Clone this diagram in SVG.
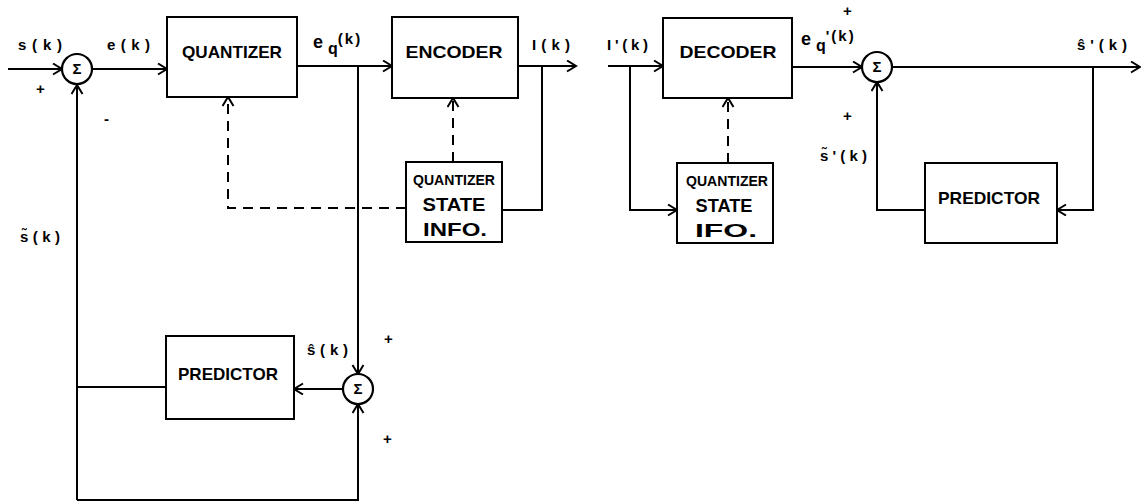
<svg xmlns="http://www.w3.org/2000/svg" width="1141" height="504" viewBox="0 0 1141 504">
<defs>
<marker id="arr" markerUnits="userSpaceOnUse" markerWidth="14" markerHeight="14" refX="10" refY="6" orient="auto">
<path d="M1,0.5 L10,6 L1,11.5" fill="none" stroke="#000" stroke-width="2"/>
</marker>
<style>
.box{fill:#fff;stroke:#000;stroke-width:2}
.ln{fill:none;stroke:#000;stroke-width:2}
.dash{fill:none;stroke:#000;stroke-width:2;stroke-dasharray:10,7}
.sum{fill:#fff;stroke:#000;stroke-width:2.2}
.t{font-family:"Liberation Sans",Arial,sans-serif;font-weight:bold;font-size:17px;fill:#000}
.lb{font-family:"Liberation Sans",Arial,sans-serif;font-weight:bold;font-size:15px;fill:#000}
.sg{font-family:"Liberation Sans",Arial,sans-serif;font-weight:bold;font-size:15px;fill:#000;text-anchor:middle}
.m{text-anchor:middle}
.s14{font-size:14px}
.s18{font-size:18px}
.big{font-size:18px}
</style>
</defs>
<rect width="1141" height="504" fill="#fff"/>
<g id="connectors">
<line class="ln" x1="8" y1="69" x2="62" y2="69" marker-end="url(#arr)"/>
<line class="ln" x1="92" y1="69" x2="167" y2="69" marker-end="url(#arr)"/>
<line class="ln" x1="297" y1="66" x2="392" y2="66" marker-end="url(#arr)"/>
<line class="ln" x1="518" y1="66" x2="576" y2="66" marker-end="url(#arr)"/>
<polyline class="ln" points="542,66 542,210 502,210"/>
<line class="ln" x1="358" y1="66" x2="358" y2="374" marker-end="url(#arr)"/>
<polyline class="dash" points="406,208 228,208 228,97" marker-end="url(#arr)"/>
<line class="dash" x1="453" y1="162" x2="453" y2="98" marker-end="url(#arr)"/>
<polyline class="ln" points="77,500 77,85" marker-end="url(#arr)"/>
<line class="ln" x1="166" y1="387" x2="77" y2="387"/>
<line class="ln" x1="343" y1="389" x2="294" y2="389" marker-end="url(#arr)"/>
<polyline class="ln" points="77,500 358,500 358,404" marker-end="url(#arr)"/>
<line class="ln" x1="608" y1="66" x2="663" y2="66" marker-end="url(#arr)"/>
<polyline class="ln" points="630,66 630,210 677,210" marker-end="url(#arr)"/>
<line class="dash" x1="728" y1="163" x2="728" y2="98" marker-end="url(#arr)"/>
<line class="ln" x1="792" y1="67" x2="862" y2="67" marker-end="url(#arr)"/>
<line class="ln" x1="892" y1="67" x2="1140" y2="67" marker-end="url(#arr)"/>
<polyline class="ln" points="1093,67 1093,210 1057,210" marker-end="url(#arr)"/>
<polyline class="ln" points="925,210 877,210 877,82" marker-end="url(#arr)"/>
</g>
<g id="sum1"><circle class="sum" cx="77" cy="69" r="15"/><text class="sg" x="77" y="74">Σ</text></g>
<g id="quantizer"><rect class="box" x="167" y="17" width="130" height="80"/><text class="t m" x="232" y="58" textLength="100" lengthAdjust="spacingAndGlyphs">QUANTIZER</text></g>
<g id="encoder"><rect class="box" x="392" y="17" width="126" height="81"/><text class="t m" x="454" y="58" textLength="97" lengthAdjust="spacingAndGlyphs">ENCODER</text></g>
<g id="qsi1"><rect class="box" x="406" y="162" width="96" height="80"/>
<text class="t m s14" x="454" y="185" textLength="82" lengthAdjust="spacingAndGlyphs">QUANTIZER</text>
<text class="t m s18" x="454" y="211" textLength="63" lengthAdjust="spacingAndGlyphs">STATE</text>
<text class="t m s18" x="455" y="236" textLength="64" lengthAdjust="spacingAndGlyphs">INFO.</text></g>
<g id="predictor1"><rect class="box" x="166" y="336" width="128" height="83"/><text class="t m" x="228" y="380" textLength="100" lengthAdjust="spacingAndGlyphs">PREDICTOR</text></g>
<g id="sum3"><circle class="sum" cx="358" cy="389" r="15"/><text class="sg" x="358" y="394">Σ</text></g>
<g id="decoder"><rect class="box" x="663" y="18" width="129" height="80"/><text class="t m" x="728" y="58" textLength="97" lengthAdjust="spacingAndGlyphs">DECODER</text></g>
<g id="qsi2"><rect class="box" x="677" y="163" width="96" height="80"/>
<text class="t m s14" x="727" y="186" textLength="82" lengthAdjust="spacingAndGlyphs">QUANTIZER</text>
<text class="t m s18" x="724" y="212" textLength="57" lengthAdjust="spacingAndGlyphs">STATE</text>
<text class="t m s18" x="726" y="237" textLength="62" lengthAdjust="spacingAndGlyphs">IFO.</text></g>
<g id="sum2"><circle class="sum" cx="877" cy="67" r="15"/><text class="sg" x="877" y="72">Σ</text></g>
<g id="predictor2"><rect class="box" x="925" y="163" width="132" height="80"/><text class="t m" x="989" y="204" textLength="102" lengthAdjust="spacingAndGlyphs">PREDICTOR</text></g>
<g id="labels">
<text class="lb" x="18" y="50" textLength="44">s(k)</text>
<text class="lb" x="36" y="94">+</text>
<text class="lb" x="104" y="124">-</text>
<text class="lb" x="107" y="50" textLength="43">e(k)</text>
<text class="lb big" x="313" y="48">e<tspan dx="5" dy="6" style="font-size:16px">q</tspan><tspan dy="-10" style="font-size:15px;letter-spacing:2px">(k)</tspan></text>
<text class="lb" x="532" y="50" textLength="38">I(k)</text>
<text class="lb" x="20" y="242" textLength="40">s̃(k)</text>
<text class="lb" x="307" y="355" textLength="41">ŝ(k)</text>
<text class="lb" x="384" y="344">+</text>
<text class="lb" x="383" y="444">+</text>
<text class="lb" x="607" y="50" textLength="41">I'(k)</text>
<text class="lb big" x="801" y="45">e<tspan dx="5" dy="6" style="font-size:16px">q</tspan><tspan dy="-10" style="font-size:15px;letter-spacing:2px">'(k)</tspan></text>
<text class="lb" x="843" y="16">+</text>
<text class="lb" x="843" y="121">+</text>
<text class="lb" x="820" y="161" textLength="47">s̃'(k)</text>
<text class="lb" x="1077" y="50" textLength="50">ŝ'(k)</text>
</g>
</svg>
